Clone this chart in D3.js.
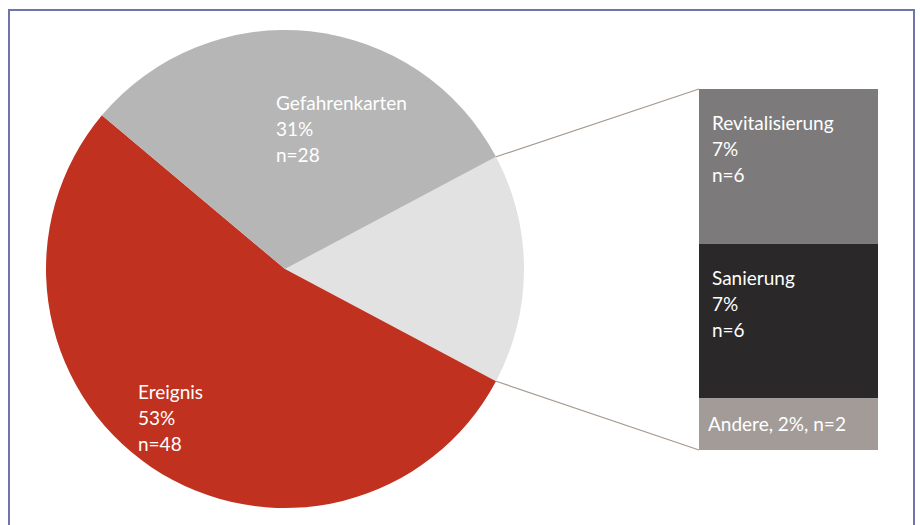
<!DOCTYPE html>
<html>
<head>
<meta charset="utf-8">
<script src="https://cdn.jsdelivr.net/npm/d3@7"></script>
<style>
  body { margin: 0; background: #fff; }
  #chart { width: 920px; height: 525px; }
  text { font-family: Lato, "Open Sans", sans-serif; fill: #fff; }
</style>
</head>
<body>
<div id="chart"></div>
<script>
// main pie
const pieLabels = ["Andere Gründe", "Ereignis", "Gefahrenkarten"];
const pieCounts = [14, 48, 28];
const piePercents = [16, 53, 31];
const pieColors = ["#e2e2e2", "#c0311f", "#b6b6b6"];

// breakdown of "Andere Gründe" into the stacked bar
const barLabels = ["Revitalisierung", "Sanierung", "Andere"];
const barCounts = [6, 6, 2];
const barPercents = [7, 7, 2];
const barColors = ["#7c7a7a", "#2a2828", "#a29b98"];

function drawChart() {
  const container = d3.select("#chart");
  container.selectAll("*").remove();

  const width = 920;
  const height = 525;

  const svg = container.append("svg")
    .attr("width", width)
    .attr("height", height);

  // frame
  svg.append("rect")
    .attr("x", 9)
    .attr("y", 10)
    .attr("width", 905)
    .attr("height", 530)
    .attr("fill", "none")
    .attr("stroke", "#6f74aa")
    .attr("stroke-width", 2);

  const cx = 285, cy = 269, r = 239;
  const startDeg = 62;

  const pie = d3.pie()
    .sort(null)
    .value(d => d.n)
    .startAngle(startDeg * Math.PI / 180)
    .endAngle(startDeg * Math.PI / 180 + 2 * Math.PI);

  const slices = pie(pieLabels.map((name, i) => ({
    name, n: pieCounts[i], pct: piePercents[i], color: pieColors[i]
  })));

  const arc = d3.arc().innerRadius(0).outerRadius(r);

  const g = svg.append("g").attr("transform", `translate(${cx},${cy})`);

  g.selectAll("path")
    .data(slices)
    .join("path")
    .attr("d", arc)
    .attr("fill", d => d.data.color);

  // stacked bar for the split-off slice
  const barX = 699, barW = 179;
  const y = d3.scaleLinear()
    .domain([0, d3.sum(barCounts)])
    .range([89, 450]);

  const stack = [];
  let acc = 0;
  barLabels.forEach((name, i) => {
    stack.push({ name, n: barCounts[i], pct: barPercents[i], color: barColors[i], y0: acc, y1: acc + barCounts[i] });
    acc += barCounts[i];
  });

  svg.selectAll("rect.bar")
    .data(stack)
    .join("rect")
    .attr("class", "bar")
    .attr("x", barX)
    .attr("y", d => y(d.y0))
    .attr("width", barW)
    .attr("height", d => y(d.y1) - y(d.y0))
    .attr("fill", d => d.color);

  // connector lines from the split-off slice to the bar
  const other = slices[0];
  const edge = a => [cx + r * Math.sin(a), cy - r * Math.cos(a)];
  const p1 = edge(other.startAngle);
  const p2 = edge(other.endAngle);

  svg.append("line")
    .attr("x1", p1[0]).attr("y1", p1[1])
    .attr("x2", barX).attr("y2", y(0))
    .attr("stroke", "#a8988a").attr("stroke-width", 1.2);

  svg.append("line")
    .attr("x1", p2[0]).attr("y1", p2[1])
    .attr("x2", barX).attr("y2", y(d3.sum(barCounts)))
    .attr("stroke", "#a8988a").attr("stroke-width", 1.2);

  // pie labels
  const lineH = 26;
  const fs = 19;
  const pieLabelPos = {
    "Ereignis": [138, 399],
    "Gefahrenkarten": [276, 110]
  };

  slices.forEach(s => {
    const pos = pieLabelPos[s.data.name];
    if (!pos) return;
    const t = svg.append("text")
      .attr("x", pos[0])
      .attr("y", pos[1])
      .attr("font-size", fs);
    [s.data.name, s.data.pct + "%", "n=" + s.data.n].forEach((line, i) => {
      t.append("tspan").attr("x", pos[0]).attr("dy", i === 0 ? 0 : lineH).text(line);
    });
  });

  // bar labels
  stack.forEach(s => {
    if (s.n > 2) {
      const t = svg.append("text")
        .attr("x", barX + 13)
        .attr("y", y(s.y0) + 41)
        .attr("font-size", fs);
      [s.name, s.pct + "%", "n=" + s.n].forEach((line, i) => {
        t.append("tspan").attr("x", barX + 13).attr("dy", i === 0 ? 0 : lineH).text(line);
      });
    } else {
      svg.append("text")
        .attr("x", barX + 9)
        .attr("y", (y(s.y0) + y(s.y1)) / 2 + 7)
        .attr("font-size", fs)
        .text(`${s.name}, ${s.pct}%, n=${s.n}`);
    }
  });
}

drawChart();
</script>
</body>
</html>
